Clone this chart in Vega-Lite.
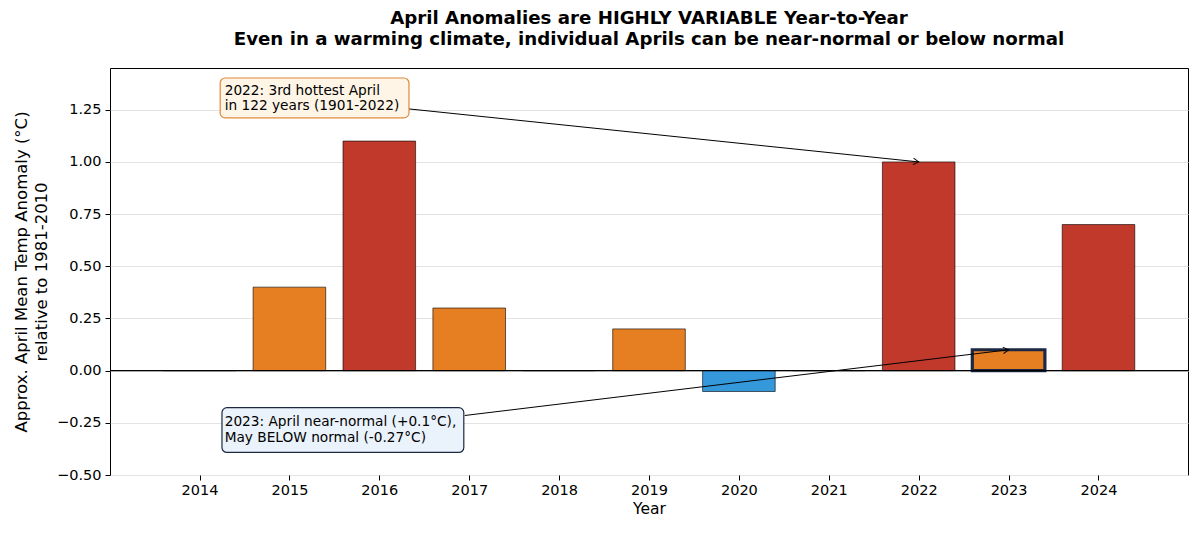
{
  "$schema": "https://vega.github.io/schema/vega-lite/v6.json",
  "autosize": {"type": "none"},
  "width": 1078,
  "height": 407,
  "padding": {"left": 110, "top": 68, "right": 12, "bottom": 60},
  "background": "white",
  "config": {
    "font": "DejaVu Sans",
    "view": {"stroke": "black", "strokeWidth": 1},
    "axis": {"labelFont": "DejaVu Sans", "titleFont": "DejaVu Sans", "labelColor": "black", "titleColor": "black", "tickColor": "black", "domainColor": "black", "labelFontSize": 14.5, "titleFontSize": 16, "titleFontWeight": "normal", "tickSize": 5}
  },
  "title": {
    "text": ["April Anomalies are HIGHLY VARIABLE Year-to-Year", "Even in a warming climate, individual Aprils can be near-normal or below normal"],
    "fontSize": 18.2,
    "fontWeight": "bold",
    "font": "DejaVu Sans",
    "anchor": "middle",
    "offset": 19,
    "lineHeight": 21,
    "color": "black"
  },
  "datasets": {
    "anoms": [
      {"year": 2014, "anomaly": 0},
      {"year": 2015, "anomaly": 0.4},
      {"year": 2016, "anomaly": 1.1},
      {"year": 2017, "anomaly": 0.3},
      {"year": 2018, "anomaly": 0},
      {"year": 2019, "anomaly": 0.2},
      {"year": 2020, "anomaly": -0.1},
      {"year": 2021, "anomaly": 0},
      {"year": 2022, "anomaly": 1.0},
      {"year": 2023, "anomaly": 0.1},
      {"year": 2024, "anomaly": 0.7}
    ],
    "one": [{}]
  },
  "layer": [
    {
      "data": {"name": "anoms"},
      "mark": {"type": "bar", "orient": "vertical", "width": 72.6},
      "encoding": {
        "x": {"field": "year", "type": "quantitative",
              "scale": {"domain": [2013.06, 2024.94], "nice": false, "zero": false},
              "axis": {"values": [2014, 2015, 2016, 2017, 2018, 2019, 2020, 2021, 2022, 2023, 2024], "format": "d", "grid": false, "title": "Year", "titleFontSize": 15.5, "labelPadding": 3, "titlePadding": 5, "domain": false}},
        "y": {"field": "anomaly", "type": "quantitative",
              "scale": {"domain": [-0.5, 1.45], "nice": false, "zero": false},
              "axis": {"values": [-0.5, -0.25, 0, 0.25, 0.5, 0.75, 1.0, 1.25], "format": ".2f", "grid": true, "gridColor": "#e3e3e3", "gridWidth": 1, "domain": false,
                       "title": ["Approx. April Mean Temp Anomaly (°C)", "relative to 1981-2010"], "titleFontSize": 16.5, "titlePadding": 7, "titleLineHeight": 20, "labelPadding": 4}},
        "y2": {"datum": 0},
        "color": {
          "condition": [
            {"test": "datum.anomaly >= 0.5", "value": "#c0392b"},
            {"test": "datum.anomaly < 0", "value": "#3498db"}
          ],
          "value": "#e67e22"
        },
        "stroke": {"condition": {"test": "datum.year == 2023", "value": "#1c2841"}, "value": "black"},
        "strokeWidth": {"condition": {"test": "datum.year == 2023", "value": 3.2}, "value": 0.6}
      }
    },
    {
      "data": {"name": "one"},
      "mark": {"type": "rule", "color": "black", "strokeWidth": 1.2},
      "encoding": {"y": {"datum": 0}}
    },
    {
      "data": {"name": "one"},
      "mark": {"type": "rule", "color": "black", "strokeWidth": 1},
      "encoding": {"x": {"datum": 2016.33}, "y": {"datum": 1.254}, "x2": {"datum": 2022.0}, "y2": {"datum": 1.0}}
    },
    {
      "data": {"name": "one"},
      "mark": {"type": "point", "shape": "M-1,-0.6L0,0L-1,0.6", "size": 120, "filled": false, "stroke": "black", "strokeWidth": 1, "angle": 5.8, "opacity": 1},
      "encoding": {"x": {"datum": 2022.0}, "y": {"datum": 1.0}}
    },
    {
      "data": {"name": "one"},
      "mark": {"type": "rule", "color": "black", "strokeWidth": 1},
      "encoding": {"x": {"datum": 2016.95}, "y": {"datum": -0.215}, "x2": {"datum": 2023.0}, "y2": {"datum": 0.1}}
    },
    {
      "data": {"name": "one"},
      "mark": {"type": "point", "shape": "M-1,-0.6L0,0L-1,0.6", "size": 120, "filled": false, "stroke": "black", "strokeWidth": 1, "angle": -6.9, "opacity": 1},
      "encoding": {"x": {"datum": 2023.0}, "y": {"datum": 0.1}}
    },
    {
      "data": {"name": "one"},
      "mark": {"type": "rect", "fill": "#fef5e7", "stroke": "#e08a3c", "strokeWidth": 1.2, "cornerRadius": 5},
      "encoding": {"x": {"datum": 2014.23}, "x2": {"datum": 2016.33}, "y": {"datum": 1.402}, "y2": {"datum": 1.211}}
    },
    {
      "data": {"name": "one"},
      "mark": {"type": "text", "align": "left", "baseline": "middle", "fontSize": 13.7, "lineHeight": 15.5, "color": "black",
               "text": ["2022: 3rd hottest April", "in 122 years (1901-2022)"]},
      "encoding": {"x": {"datum": 2014.28}, "y": {"datum": 1.342}}
    },
    {
      "data": {"name": "one"},
      "mark": {"type": "rect", "fill": "#eaf2fb", "stroke": "#1c2841", "strokeWidth": 1.2, "cornerRadius": 5},
      "encoding": {"x": {"datum": 2014.25}, "x2": {"datum": 2016.94}, "y": {"datum": -0.177}, "y2": {"datum": -0.392}}
    },
    {
      "data": {"name": "one"},
      "mark": {"type": "text", "align": "left", "baseline": "middle", "fontSize": 13.7, "lineHeight": 15.5, "color": "black",
               "text": ["2023: April near-normal (+0.1°C),", "May BELOW normal (-0.27°C)"]},
      "encoding": {"x": {"datum": 2014.28}, "y": {"datum": -0.248}}
    }
  ]
}
